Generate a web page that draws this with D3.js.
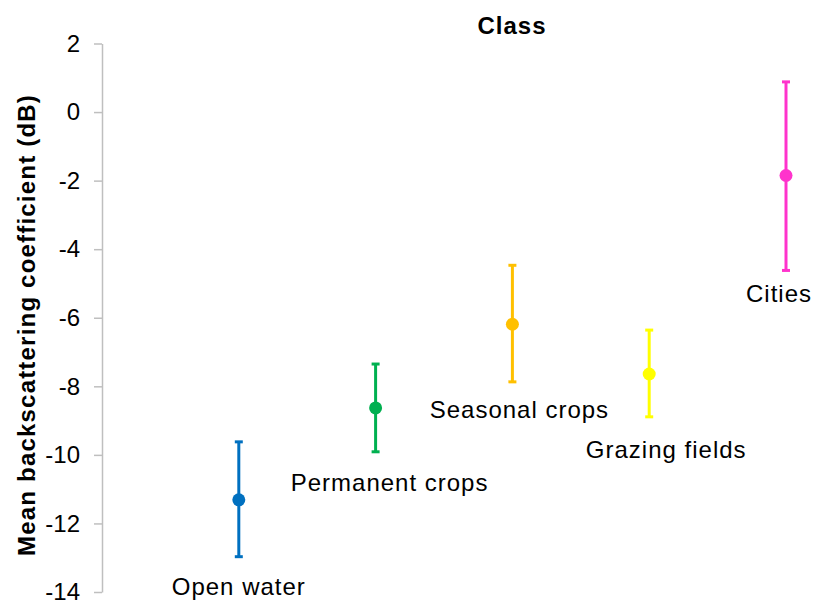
<!DOCTYPE html>
<html>
<head>
<meta charset="utf-8">
<script src="https://cdnjs.cloudflare.com/ajax/libs/d3/7.8.5/d3.min.js"></script>
<style>
  body { margin: 0; background: #fff; }
  text { font-family: "Liberation Sans", Arial, sans-serif; }
</style>
</head>
<body>
<div id="chart"></div>
<script>
// values
var classes = ["Open water", "Permanent crops", "Seasonal crops", "Grazing fields", "Cities"];
var means   = [-11.31, -8.63, -6.19, -7.64, -1.85];
var upper   = [-9.62, -7.35, -4.47, -6.36, 0.88];
var lower   = [-12.97, -9.91, -7.87, -8.89, -4.62];
var colors  = ["#0070C0", "#00B050", "#FFC000", "#FFFF00", "#FF33CC"];
var yTicks  = [2, 0, -2, -4, -6, -8, -10, -12, -14];

// label placement (offset from the point, px)
var labelDx = [0, 14, 7, 17, -7];
var labelDy = [95, 83, 94, 84, 127];

var w = 826;
var h = 602;

var svg = d3.select("#chart")
            .append("svg")
              .attr("width", w)
              .attr("height", h);

var xScale = d3.scaleLinear()
               .domain([0, classes.length])
               .range([102, 786]);

var yScale = d3.scaleLinear()
               .domain([-14, 2])
               .range([592, 43.5]);

// y axis
var y_axis = d3.axisLeft()
               .scale(yScale)
               .tickValues(yTicks)
               .tickFormat(function(d) { return String(d); })
               .tickSize(8)
               .tickPadding(14)
               .tickSizeOuter(0);

var gy = svg.append("g")
   .attr("transform", "translate(102, 0)")
   .call(y_axis);

gy.select(".domain").attr("stroke", "#BFBFBF").attr("stroke-width", 1.5);
gy.selectAll(".tick line").attr("stroke", "#BFBFBF").attr("stroke-width", 1.5);
gy.selectAll(".tick text")
  .attr("font-size", 24)
  .attr("fill", "#000")
  .attr("font-family", "Liberation Sans, Arial, sans-serif");

var data = classes.map(function(c, i) {
  return { name: c, mean: means[i], hi: upper[i], lo: lower[i], color: colors[i], i: i };
});

var g = svg.selectAll(".pt")
   .data(data)
   .enter()
   .append("g")
   .attr("class", "pt");

// error bars
g.append("line")
  .attr("x1", function(d) { return xScale(d.i + 1); })
  .attr("x2", function(d) { return xScale(d.i + 1); })
  .attr("y1", function(d) { return yScale(d.hi); })
  .attr("y2", function(d) { return yScale(d.lo); })
  .attr("stroke", function(d) { return d.color; })
  .attr("stroke-width", 3);

["hi", "lo"].forEach(function(k) {
  g.append("line")
    .attr("x1", function(d) { return xScale(d.i + 1) - 4; })
    .attr("x2", function(d) { return xScale(d.i + 1) + 4; })
    .attr("y1", function(d) { return yScale(d[k]); })
    .attr("y2", function(d) { return yScale(d[k]); })
    .attr("stroke", function(d) { return d.color; })
    .attr("stroke-width", 3);
});

// markers
g.append("circle")
  .attr("cx", function(d) { return xScale(d.i + 1); })
  .attr("cy", function(d) { return yScale(d.mean); })
  .attr("r", 6.5)
  .attr("fill", function(d) { return d.color; });

// data labels
g.append("text")
  .attr("x", function(d) { return xScale(d.i + 1) + labelDx[d.i]; })
  .attr("y", function(d) { return yScale(d.mean) + labelDy[d.i]; })
  .attr("text-anchor", "middle")
  .attr("font-size", 24)
  .attr("letter-spacing", 1)
  .text(function(d) { return d.name; });

// title
svg.append("text")
   .attr("x", 512)
   .attr("y", 34)
   .attr("text-anchor", "middle")
   .attr("font-size", 24)
   .attr("font-weight", "bold")
   .attr("letter-spacing", 1)
   .text("Class");

// y axis title
svg.append("text")
   .attr("transform", "translate(35, 325) rotate(-90)")
   .attr("text-anchor", "middle")
   .attr("font-size", 24)
   .attr("font-weight", "bold")
   .attr("letter-spacing", 1.2)
   .text("Mean backscattering coefficient (dB)");
</script>
</body>
</html>
